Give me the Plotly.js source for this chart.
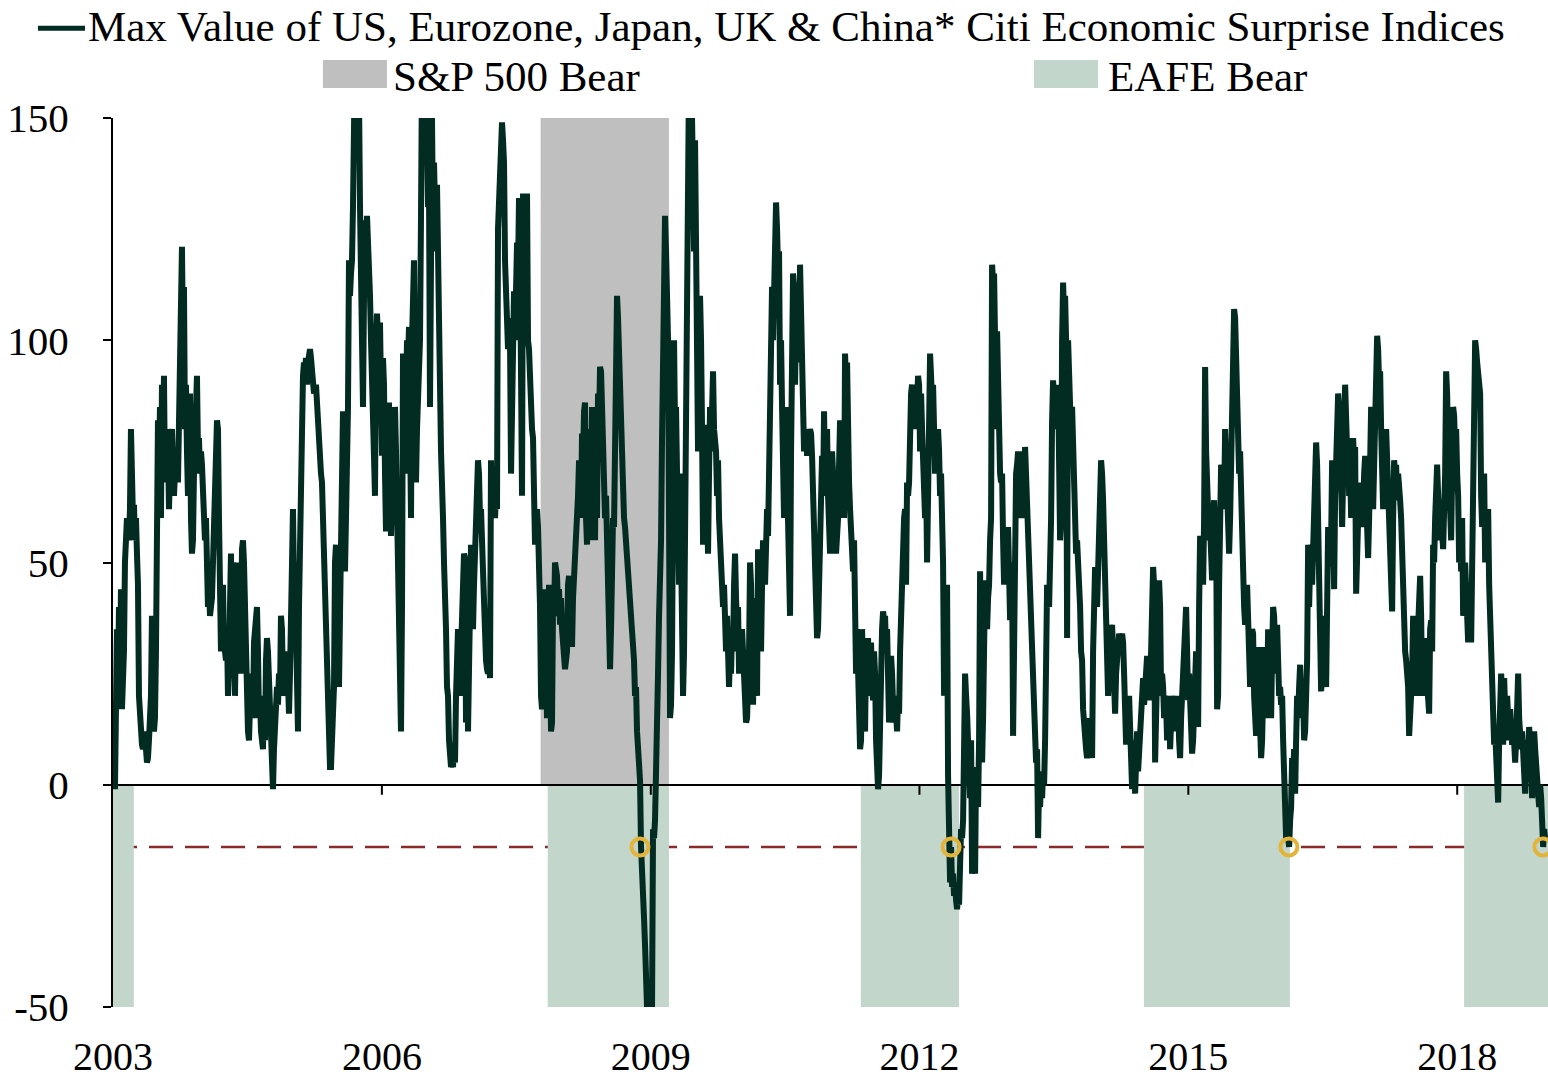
<!DOCTYPE html>
<html><head><meta charset="utf-8">
<script src="https://cdn.plot.ly/plotly-3.0.1.min.js"></script>
<style>html,body{margin:0;padding:0;background:#fff;}#chart{width:1548px;height:1083px;}</style>
</head><body><div id="chart"></div>
<script>
const seriesName = 'Max Value of US, Eurozone, Japan, UK & China* Citi Economic Surprise Indices';
const seriesStart = '2003-01-09';
const seriesStepDays = 4.0765;
const cesiMax = [
-1,10,35,18,40,22,44,17,25,30, 50,58,60,58,55,62,80,70,60,63, 55,60,52,45,20,15,10,9,8,10, 12,8,5,6,10,15,20,38,25,12,
15,30,60,82,70,85,60,90,75,92, 68,80,70,78,62,75,78,80,72,65, 70,72,75,68,80,95,115,121,100,112, 80,90,75,65,80,88,60,52,55,70,
78,85,92,75,78,70,75,72,62,65, 55,60,50,40,45,38,40,42,50,55, 60,75,82,80,60,40,30,38,45,32, 30,28,35,20,25,40,52,30,50,48,
20,42,50,48,40,30,25,53,55,50, 35,25,20,12,10,18,25,20,15,32, 35,38,40,30,15,20,12,10,8,18, 10,28,33,30,25,18,10,5,-1,8,
12,20,22,18,25,20,38,35,22,25, 20,22,30,18,16,25,35,50,62,45, 50,35,15,12,40,60,80,79,92,95, 93,96,90,95,97,98,96,94,92,88,
89,90,85,80,78,75,70,68,60,50, 40,30,20,10,5,4,4,10,18,22, 50,54,40,25,22,38,50,55,84,65, 48,60,70,85,118,110,115,118,130,160,
165,160,145,160,155,130,110,96,85,110, 127,120,128,122,125,110,100,90,74,68, 65,98,106,100,95,104,80,74,96,90, 70,57,60,78,86,70,56,65,80,70,
85,75,60,40,25,15,12,40,97,80, 70,85,100,95,103,75,60,100,110,118, 90,68,80,85,95,100,128,160,150,140, 155,160,145,130,135,85,105,150,125,140,
130,120,135,125,115,90,75,70,60,50, 45,35,22,20,10,4,4,5,4,8, 5,20,25,35,25,20,30,40,45,52, 51,14,30,12,35,50,54,40,35,45,
52,50,60,73,70,60,62,55,45,50, 35,28,26,25,30,24,73,62,70,62, 60,65,62,125,130,134,140,149,145,140, 118,110,112,98,105,100,70,95,110,111,
100,112,122,115,132,120,100,65,133,125, 110,118,133,100,98,92,82,80,78,55, 54,60,62,58,50,40,20,17,25,44, 40,30,15,20,45,32,12,14,40,38,
50,48,47,40,44,36,42,35,33,30, 26,28,30,45,47,40,35,31,42,46, 54,60,58,65,73,70,60,79,72,84, 86,60,54,75,55,80,60,85,70,83,
55,82,60,88,80,94,93,85,70,72, 60,65,55,40,30,26,35,55,60,58, 75,100,110,105,96,90,85,70,62,60, 58,55,50,48,45,40,38,34,30,28,
20,22,12,8,3,1,-14,-23,-20,-30, -36,-40,-50,-56,-60,-58,-55,-50,-10,-12, -8,11,8,25,38,45,55,78,95,110, 128,120,110,100,60,15,18,30,65,100,
80,85,70,60,45,70,55,40,20,30, 60,96,110,140,160,165,165,150,140,120, 145,100,80,75,90,110,100,80,54,70, 81,74,60,52,70,85,75,88,93,80,
78,75,65,73,60,55,50,48,40,45, 35,30,38,28,22,30,25,35,30,45, 52,42,35,40,25,30,28,35,30,22, 25,14,15,20,30,50,45,30,18,35,
42,22,20,53,40,44,30,45,55,52, 45,60,62,56,70,64,90,112,100,115, 120,131,125,116,120,90,100,85,70,60, 72,85,70,56,40,38,75,100,115,112,
90,105,113,100,95,117,108,98,85,75, 78,80,74,80,78,80,79,74,65,58, 45,40,33,35,45,50,60,74,65,84, 66,70,80,65,58,52,60,75,70,62,
65,52,55,60,72,82,65,78,82,60, 97,90,95,70,68,62,58,55,48,55, 45,25,35,23,15,8,10,35,25,15, 12,30,22,33,20,28,32,22,19,30,
25,10,3,-1,2,20,30,35,39,37, 38,30,35,22,14,20,29,25,18,14, 20,15,12,20,16,30,40,48,52,60, 62,45,68,65,68,85,88,90,86,80,
85,82,86,92,90,75,88,80,70,75, 60,70,50,65,80,97,92,85,90,80, 70,75,70,80,75,65,70,60,50,20, 30,45,45,2,-16,-22,-14,-23,-20,-25,
-22,-26,-28,-25,-27,-18,-10,-12,-8,10, 25,20,16,5,8,-3,10,-20,-18,-15, -20,4,2,-5,10,48,30,5,15,40, 46,40,35,42,45,55,60,117,113,115,
100,80,102,85,73,70,68,70,55,45, 50,55,50,58,40,37,45,50,11,30, 65,70,72,75,68,60,70,75,68,60, 76,70,62,52,55,45,40,37,30,20,
15,5,8,-12,0,-5,2,-3,3,0, 10,20,45,43,40,47,60,82,91,85, 88,83,80,90,70,55,59,100,113,105, 110,100,33,100,95,90,78,85,73,60,
55,52,55,50,48,40,30,28,17,12, 10,8,6,8,15,10,6,6,30,40, 49,45,40,48,55,64,73,70,64,55, 48,40,30,20,25,36,34,36,30,20,
16,25,30,28,34,33,30,34,32,25, 20,9,15,12,20,10,5,-1,5,10, -2,5,12,3,8,16,20,22,24,18, 24,22,29,25,19,22,30,40,49,45,
5,20,30,38,46,40,20,25,22,15, 20,18,10,16,20,8,12,20,18,16, 20,12,18,20,10,6,15,20,30,37, 35,40,30,19,25,20,12,7,10,20,
25,30,28,13,40,56,50,55,45,60, 94,75,65,60,55,58,48,46,60,64, 57,60,17,20,45,60,72,70,66,62, 80,70,75,65,52,60,75,90,100,107,
105,95,82,80,70,75,61,65,45,40, 36,38,45,36,30,22,28,35,34,20, 15,11,25,31,20,15,6,10,25,31, 28,15,20,35,25,20,15,30,40,38,
30,25,36,28,20,22,18,20,10,0, -6,-12,-10,-12,-14,-8,-5,6,2,8, -2,10,20,15,22,27,20,16,20,10, 12,20,28,54,40,50,54,45,52,60,
70,77,72,60,38,30,21,25,38,30, 25,22,40,58,50,49,55,73,60,44, 65,70,80,88,85,70,68,58,65,80, 90,85,75,78,65,72,60,70,78,72,
76,43,50,60,68,62,65,60,58,70, 74,65,60,51,60,70,85,80,62,70, 78,82,101,98,90,93,80,70,62,75, 70,80,73,75,68,60,50,39,60,73,
70,72,64,70,68,64,60,50,38,40, 30,28,25,22,11,15,20,25,38,30, 25,20,30,35,40,47,38,20,25,33, 30,25,20,18,16,35,37,30,54,50,
60,70,72,65,58,55,60,57,53,62, 70,93,88,75,63,60,55,70,85,83, 75,80,70,65,50,55,48,60,38,40, 50,38,35,32,40,38,32,45,60,78,
100,98,95,93,90,88,65,58,60,70, 50,57,55,62,45,35,30,20,15,9, 12,5,0,-4,10,22,25,20,9,24, 18,10,20,15,10,17,12,9,14,10,
5,10,20,25,15,10,8,12,5,2, -2,8,10,5,13,8,0,-3,5,12, 8,2,3,-2,-5,0,-3,-8,-14,-10, -12
];
const spBearStart = ['2007-10-10'];
const spBearEnd = ['2009-03-16'];
const eafeBearStart = ['2003-01-01', '2007-11-08', '2011-05-07', '2014-07-04', '2018-01-29'];
const eafeBearEnd = ['2003-03-27', '2009-03-16', '2012-06-10', '2016-02-19', '2019-01-06'];
const signalLevel = -14;
const signalDates = ['2008-11-18', '2012-05-09', '2016-02-15', '2018-12-16'];
const tickYears = ['2003', '2006', '2009', '2012', '2015', '2018'];
const yTicks = [-50, 0, 50, 100, 150];
const xRange = ['2003-01-01', '2019-01-06'];
const yRange = [-50, 150];

const FONT = 'Liberation Serif, Times New Roman, serif';
const LINE = '#022B22', GRAY = '#BFBFBF', GREEN = '#C3D6CB', RED = '#8B2A2A', GOLD = '#E3B43A';

const t0 = Date.parse(seriesStart + 'T00:00:00Z');
const dates = cesiMax.map((_, k) => new Date(t0 + k * seriesStepDays * 86400000).toISOString().slice(0, 16).replace('T', ' '));

const traces = [
  {x: dates, y: cesiMax, type: 'scatter', mode: 'lines', name: seriesName,
   line: {color: LINE, width: 6}, hoverinfo: 'x+y'},
  {x: signalDates, y: signalDates.map(() => signalLevel), type: 'scatter', mode: 'markers',
   name: 'signal', marker: {symbol: 'circle-open', size: 17, color: GOLD, line: {width: 4, color: GOLD}}}
];

const shapes = [];
spBearStart.forEach((s, i) => shapes.push({type: 'rect', layer: 'below', xref: 'x', yref: 'y',
  x0: s, x1: spBearEnd[i], y0: 0, y1: yRange[1], fillcolor: GRAY, line: {width: 0}}));
eafeBearStart.forEach((s, i) => shapes.push({type: 'rect', layer: 'below', xref: 'x', yref: 'y',
  x0: s, x1: eafeBearEnd[i], y0: yRange[0], y1: 0, fillcolor: GREEN, line: {width: 0}}));
shapes.push({type: 'line', layer: 'below', xref: 'paper', yref: 'y', x0: 0, x1: 1, y0: signalLevel, y1: signalLevel,
  line: {color: RED, width: 2.5, dash: '24px,12px'}});
tickYears.slice(1).forEach(yr => shapes.push({type: 'line', xref: 'x', yref: 'y', ysizemode: 'pixel', yanchor: 0,
  x0: yr + '-01-01', x1: yr + '-01-01', y0: 0, y1: -10, line: {color: '#000', width: 2}}));
// legend swatches
shapes.push({type: 'line', xref: 'paper', yref: 'paper', x0: -0.0523, x1: -0.0195, y0: 1.101, y1: 1.101, line: {color: LINE, width: 5}});
shapes.push({type: 'rect', xref: 'paper', yref: 'paper', x0: 0.1463, x1: 0.1909, y0: 1.0337, y1: 1.0652, fillcolor: GRAY, line: {width: 0}});
shapes.push({type: 'rect', xref: 'paper', yref: 'paper', x0: 0.6418, x1: 0.6864, y0: 1.0337, y1: 1.0652, fillcolor: GREEN, line: {width: 0}});

const LEGFONT = {family: FONT, size: 43, color: '#000'};
const annotations = [
  {text: seriesName.replace('&', '&amp;'), xref: 'paper', yref: 'paper', x: -0.019, y: 1.103, xanchor: 'left', yanchor: 'middle', showarrow: false, font: LEGFONT},
  {text: 'S&amp;P 500 Bear', xref: 'paper', yref: 'paper', x: 0.1937, y: 1.047, xanchor: 'left', yanchor: 'middle', showarrow: false, font: LEGFONT},
  {text: 'EAFE Bear', xref: 'paper', yref: 'paper', x: 0.692, y: 1.047, xanchor: 'left', yanchor: 'middle', showarrow: false, font: LEGFONT}
];

const TICKFONT = {family: FONT, size: 41, color: '#000'};
const layout = {
  width: 1548, height: 1083,
  margin: {l: 113, r: 0, t: 118, b: 76, pad: 0},
  paper_bgcolor: '#fff', plot_bgcolor: '#fff',
  showlegend: false,
  font: {family: FONT, size: 40, color: '#000'},
  xaxis: {type: 'date', range: xRange, tickvals: tickYears.map(y => y + '-01-01'), ticktext: tickYears,
    ticks: '', showline: false, showgrid: false, zeroline: false, ticklabelstandoff: 22,
    tickfont: {family: FONT, size: 40, color: '#000'}},
  yaxis: {range: yRange, tickvals: yTicks, ticktext: yTicks.map(String), ticks: 'outside', ticklen: 8, tickwidth: 2,
    tickcolor: '#000', showline: true, linecolor: '#000', linewidth: 2, showgrid: false,
    zeroline: true, zerolinecolor: '#000', zerolinewidth: 2, ticklabelstandoff: 26,
    tickfont: TICKFONT},
  shapes: shapes, annotations: annotations
};

Plotly.newPlot('chart', traces, layout, {staticPlot: true, displayModeBar: false});
</script></body></html>
